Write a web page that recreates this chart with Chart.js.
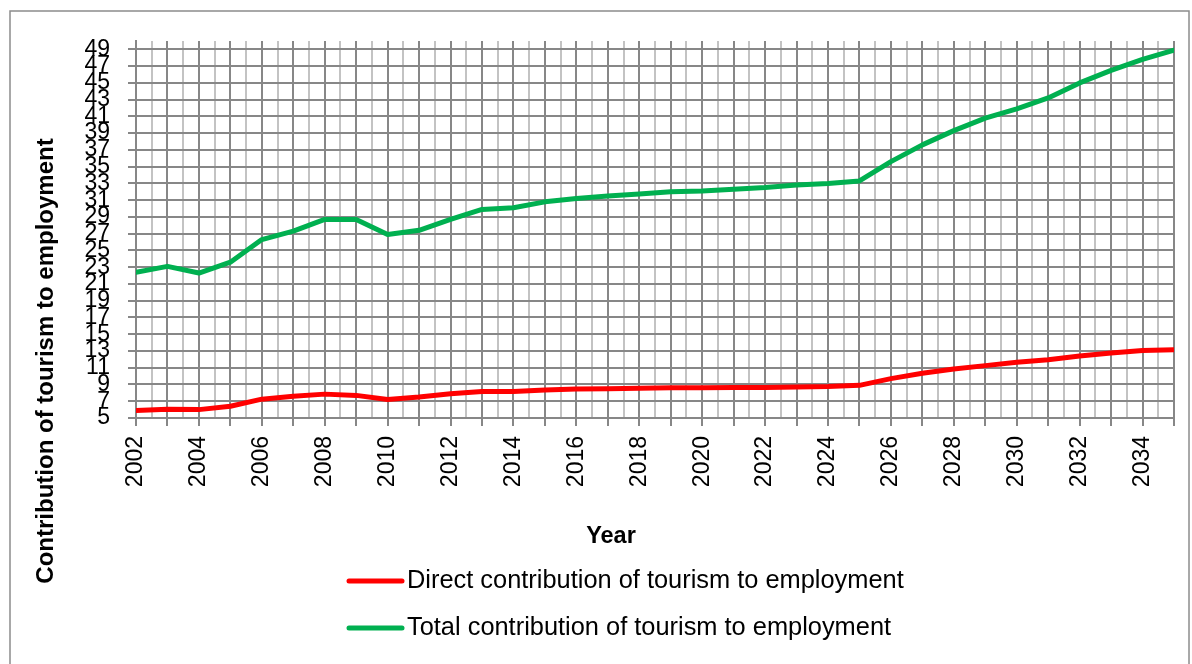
<!DOCTYPE html>
<html>
<head>
<meta charset="utf-8">
<title>Contribution of tourism to employment</title>
<style>
  html, body { margin: 0; padding: 0; background: #ffffff; }
  #wrap { width: 1192px; height: 664px; position: relative; }
</style>
<script src="https://cdn.jsdelivr.net/npm/chart.js@4.4.1/dist/chart.umd.min.js"></script>
</head>
<body>
<div id="wrap"><canvas id="chart" width="1192" height="664"></canvas></div>
<script>
// Years on the horizontal axis
const years = [2002, 2003, 2004, 2005, 2006, 2007, 2008, 2009, 2010, 2011, 2012,
               2013, 2014, 2015, 2016, 2017, 2018, 2019, 2020, 2021, 2022, 2023,
               2024, 2025, 2026, 2027, 2028, 2029, 2030, 2031, 2032, 2033, 2034, 2035];

// Direct contribution of tourism to employment
const directContribution = [5.9, 6.05, 6.0, 6.4, 7.25, 7.6, 7.85, 7.7, 7.2, 7.5, 7.9,
                            8.15, 8.15, 8.35, 8.45, 8.5, 8.55, 8.6, 8.6, 8.65, 8.65, 8.7,
                            8.75, 8.9, 9.7, 10.35, 10.85, 11.25, 11.65, 11.95, 12.4, 12.75, 13.05, 13.15];

// Total contribution of tourism to employment
const totalContribution = [22.4, 23.1, 22.3, 23.6, 26.3, 27.3, 28.7, 28.7, 26.9, 27.4, 28.7,
                           29.9, 30.1, 30.8, 31.2, 31.5, 31.75, 32.0, 32.1, 32.3, 32.5, 32.8,
                           33.0, 33.3, 35.6, 37.6, 39.3, 40.8, 41.9, 43.2, 45.0, 46.5, 47.8, 48.9];

// Tick labels
const yTickValues = [5, 7, 9, 11, 13, 15, 17, 19, 21, 23, 25, 27, 29, 31, 33, 35, 37, 39, 41, 43, 45, 47, 49];
const xLabelYears = [2002, 2004, 2006, 2008, 2010, 2012, 2014, 2016, 2018, 2020, 2022, 2024, 2026, 2028, 2030, 2032, 2034];

const seriesNames = ['Direct contribution of tourism to employment', 'Total contribution of tourism to employment'];
const axisTitleY = 'Contribution of tourism to employment';
const axisTitleX = 'Year';

const FONT = '"Liberation Sans", Arial, sans-serif';
const MAJOR = '#878787';
const MINOR = '#c3c3c3';

// vertical grid: one line per year plus a lighter one half way between years
const xGrid = [];
years.forEach((y, i) => {
  xGrid.push(y);
  if (i < years.length - 1) xGrid.push(y + 0.5);
});
const isYear = v => Number.isInteger(v);

const toPoints = arr => arr.map((v, i) => ({ x: years[i], y: v }));

// outer frame around the whole figure
const framePlugin = {
  id: 'frame',
  beforeDraw(chart) {
    const c = chart.ctx;
    c.save();
    c.fillStyle = '#ffffff';
    c.fillRect(0, 0, chart.width, chart.height);
    c.strokeStyle = '#8c8c8c';
    c.lineWidth = 1.5;
    c.strokeRect(10, 11, 1179, 700);
    c.restore();
  }
};

// axis titles and the stacked legend below the plot
const annotatePlugin = {
  id: 'annotate',
  afterDraw(chart) {
    const c = chart.ctx;
    c.save();
    c.fillStyle = '#000000';
    c.font = 'bold 23.5px ' + FONT;
    c.textAlign = 'center';
    c.textBaseline = 'middle';
    c.fillText(axisTitleX, 611, 537);
    c.font = 'bold 24px ' + FONT;
    c.translate(46, 361);
    c.rotate(-Math.PI / 2);
    c.fillText(axisTitleY, 0, 0);
    c.restore();

    c.save();
    chart.data.datasets.forEach((ds, i) => {
      const y = 581 + i * 47;
      c.strokeStyle = ds.borderColor;
      c.lineWidth = 5;
      c.lineCap = 'round';
      c.beginPath();
      c.moveTo(349, y);
      c.lineTo(402, y);
      c.stroke();
      c.fillStyle = '#000000';
      c.font = '25.4px ' + FONT;
      c.textAlign = 'left';
      c.textBaseline = 'middle';
      c.fillText(ds.label, 407, y);
    });
    c.restore();
  }
};

new Chart(document.getElementById('chart'), {
  type: 'line',
  data: {
    datasets: [
      {
        label: seriesNames[0],
        data: toPoints(directContribution),
        borderColor: '#ff0000',
        backgroundColor: '#ff0000',
        borderWidth: 5,
        pointRadius: 0,
        tension: 0,
        borderJoinStyle: 'round',
        borderCapStyle: 'round'
      },
      {
        label: seriesNames[1],
        data: toPoints(totalContribution),
        borderColor: '#00b050',
        backgroundColor: '#00b050',
        borderWidth: 5,
        pointRadius: 0,
        tension: 0,
        borderJoinStyle: 'round',
        borderCapStyle: 'round'
      }
    ]
  },
  options: {
    responsive: false,
    animation: false,
    devicePixelRatio: 1,
    layout: { padding: { left: 0, right: 18, top: 41, bottom: 0 } },
    plugins: {
      legend: { display: false },
      tooltip: { enabled: false },
      title: { display: false }
    },
    scales: {
      x: {
        type: 'linear',
        min: years[0],
        max: years[years.length - 1],
        afterBuildTicks: s => { s.ticks = xGrid.map(v => ({ value: v })); },
        afterFit: s => { s.height = 246; s.paddingLeft = 0; s.paddingRight = 0; },
        grid: {
          color: ctx => (ctx.tick && isYear(ctx.tick.value)) ? MAJOR : MINOR,
          tickColor: ctx => (ctx.tick && isYear(ctx.tick.value)) ? MAJOR : 'rgba(0,0,0,0)',
          lineWidth: 2,
          tickLength: 8
        },
        border: { color: MAJOR, width: 2 },
        ticks: {
          autoSkip: false,
          maxRotation: 90,
          minRotation: 90,
          padding: 10,
          color: '#000000',
          font: { family: FONT, size: 23 },
          callback: v => xLabelYears.includes(v) ? String(v) : ''
        }
      },
      y: {
        type: 'linear',
        min: 5,
        max: 50,
        afterBuildTicks: s => { s.ticks = yTickValues.map(v => ({ value: v })); },
        afterFit: s => { s.width = 136; s.paddingTop = 0; s.paddingBottom = 0; },
        grid: { color: MAJOR, tickColor: MAJOR, lineWidth: 2, tickLength: 8 },
        border: { color: MAJOR, width: 2 },
        ticks: {
          autoSkip: false,
          padding: 18,
          color: '#000000',
          font: { family: FONT, size: 23 },
          callback: v => String(v)
        }
      }
    }
  },
  plugins: [framePlugin, annotatePlugin]
});
</script>
</body>
</html>
